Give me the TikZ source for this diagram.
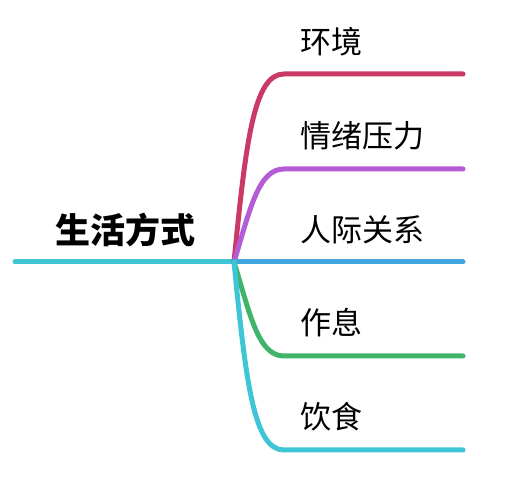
\documentclass[tikz,border=0pt]{standalone}
\usepackage{fontspec}
\newfontfamily\cjk{Noto Sans CJK SC}
\usepackage{tikz}
\definecolor{branchred}{HTML}{C93A66}
\definecolor{branchpurple}{HTML}{B35CD6}
\definecolor{branchblue}{HTML}{41A6E0}
\definecolor{branchgreen}{HTML}{3FB46A}
\definecolor{branchcyan}{HTML}{3EC6D6}

\begin{document}
\begin{tikzpicture}[x=1pt,y=1pt]
\tikzset{topic/.style = {anchor=west,inner sep=0pt,font=\cjk\fontsize{31}{31}\selectfont}}
\tikzset{root/.style = {inner sep=0pt,font=\cjk\bfseries\fontsize{35}{35}\selectfont}}
\tikzset{edge/.style = {line width=5pt,line cap=round}}
\useasboundingbox (0,0) rectangle (519,500);

\node[root] (life) at (125,270) {生活方式};
\coordinate (start) at (15,238);
\coordinate (hub) at (234,238);

\node[topic] (env) at (300,458) {环境};
\node[topic] (mood) at (300,364) {情绪压力};
\node[topic] (rel) at (300,270) {人际关系};
\node[topic] (rest) at (300,177) {作息};
\node[topic] (diet) at (300,83) {饮食};

\coordinate (env1) at (284,426);
\coordinate (mood1) at (284,331);
\coordinate (rest1) at (284,144);
\coordinate (diet1) at (284,50);
\coordinate (env2) at (463,426);
\coordinate (mood2) at (463,331);
\coordinate (rel2) at (463,238);
\coordinate (rest2) at (463,144);
\coordinate (diet2) at (463,50);

%edges
\draw[edge,branchcyan] (start) to (hub);
\draw[edge,branchred] (hub) .. controls (246,360) and (254,426) .. (env1) -- (env2);
\draw[edge,branchpurple] (hub) .. controls (250,290) and (258,331) .. (mood1) -- (mood2);
\draw[edge,branchblue] (hub) to (rel2);
\draw[edge,branchgreen] (hub) .. controls (250,186) and (258,144) .. (rest1) -- (rest2);
\draw[edge,branchcyan] (hub) .. controls (246,116) and (254,50) .. (diet1) -- (diet2);
\end{tikzpicture}
\end{document}
